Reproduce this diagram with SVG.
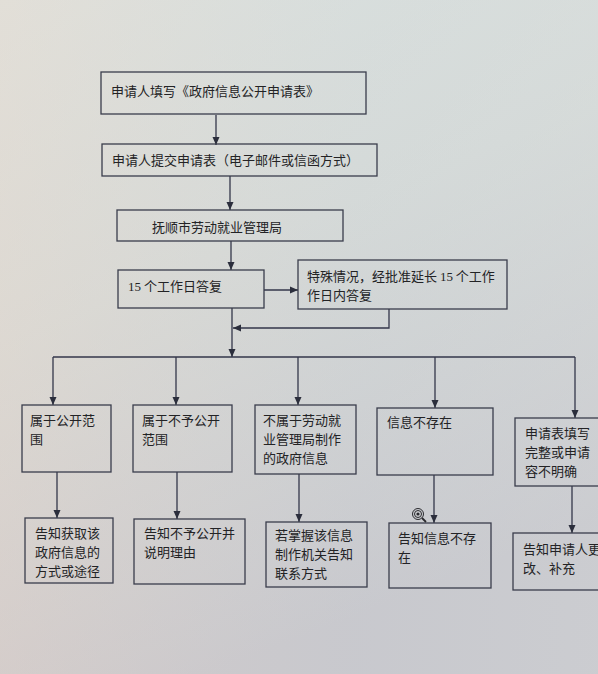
<svg xmlns="http://www.w3.org/2000/svg" width="598" height="674" viewBox="0 0 598 674">
<defs>
<linearGradient id="bg" x1="0" y1="0" x2="0.35" y2="1">
<stop offset="0" stop-color="#e0e2de"/>
<stop offset="0.45" stop-color="#d8d8d5"/>
<stop offset="1" stop-color="#c8c2c7"/>
</linearGradient>
<linearGradient id="tint" x1="0" y1="0" x2="1" y2="0">
<stop offset="0" stop-color="#e6d9cc" stop-opacity="0.35"/>
<stop offset="0.6" stop-color="#c9dde2" stop-opacity="0.25"/>
<stop offset="1" stop-color="#d2e0e2" stop-opacity="0.35"/>
</linearGradient>
<marker id="ah" markerUnits="userSpaceOnUse" markerWidth="8" markerHeight="8" viewBox="0 0 8 8" refX="8" refY="4" orient="auto">
<path d="M0,0.5 L8,4 L0,7.5 z" fill="#2b2e3c"/>
</marker>
</defs>
<style>
.box{fill:none;stroke:#3a3d4c;stroke-width:1.3}
.t{font-family:"Noto Sans CJK SC","Liberation Sans",sans-serif;font-size:13px;fill:#232325}
.n{font-family:"Liberation Serif",serif}
.c{fill:none;stroke:#33364a;stroke-width:1.3}
.ca{fill:none;stroke:#33364a;stroke-width:1.3;marker-end:url(#ah)}
</style>
<rect width="598" height="674" fill="url(#bg)"/>
<rect width="598" height="674" fill="url(#tint)"/>

<g id="connectors">
<line class="ca" x1="216" y1="115" x2="216" y2="145"/>
<line class="ca" x1="230" y1="176" x2="230" y2="210"/>
<line class="ca" x1="231" y1="241" x2="231" y2="270"/>
<line class="ca" x1="264" y1="290" x2="298" y2="290"/>
<polyline class="ca" points="389,309 389,328 233,328"/>
<line class="ca" x1="232" y1="308" x2="232" y2="357"/>
<line class="c" x1="53" y1="357" x2="575" y2="357"/>
<line class="ca" x1="53" y1="357" x2="53" y2="405"/>
<line class="ca" x1="176" y1="357" x2="176" y2="405"/>
<line class="ca" x1="298" y1="357" x2="298" y2="405"/>
<line class="ca" x1="435" y1="357" x2="435" y2="408"/>
<line class="ca" x1="575" y1="357" x2="575" y2="418"/>
<line class="ca" x1="57" y1="472" x2="57" y2="518"/>
<line class="ca" x1="177" y1="472" x2="177" y2="519"/>
<line class="ca" x1="299" y1="474" x2="299" y2="522"/>
<line class="ca" x1="434" y1="475" x2="434" y2="523"/>
<line class="ca" x1="572" y1="486" x2="572" y2="533"/>
</g>

<g id="n1"><rect class="box" x="101" y="72" width="265" height="42"/><text class="t" x="111" y="96">申请人填写《政府信息公开申请表》</text></g>
<g id="n2"><rect class="box" x="102" y="144" width="275" height="32"/><text class="t" x="112" y="165">申请人提交申请表（电子邮件或信函方式）</text></g>
<g id="n3"><rect class="box" x="117" y="210" width="226" height="31"/><text class="t" x="152" y="232">抚顺市劳动就业管理局</text></g>
<g id="n4"><rect class="box" x="118" y="270" width="146" height="38"/><text class="t" x="128" y="291"><tspan class="n">15</tspan> 个工作日答复</text></g>
<g id="n5"><rect class="box" x="298" y="260" width="209" height="49"/><text class="t" x="307" y="281">特殊情况，经批准延长 <tspan class="n">15</tspan> 个工作</text><text class="t" x="307" y="300">作日内答复</text></g>

<g id="a1"><rect class="box" x="22" y="405" width="89" height="67"/><text class="t" x="30" y="425">属于公开范</text><text class="t" x="30" y="444">围</text></g>
<g id="b1"><rect class="box" x="133" y="405" width="99" height="67"/><text class="t" x="142" y="425">属于不予公开</text><text class="t" x="142" y="444">范围</text></g>
<g id="c1"><rect class="box" x="255" y="405" width="101" height="69"/><text class="t" x="263" y="425">不属于劳动就</text><text class="t" x="263" y="444">业管理局制作</text><text class="t" x="263" y="463">的政府信息</text></g>
<g id="d1"><rect class="box" x="377" y="408" width="116" height="67"/><text class="t" x="387" y="427">信息不存在</text></g>
<g id="e1"><rect class="box" x="515" y="418" width="100" height="68"/><text class="t" x="525" y="438">申请表填写</text><text class="t" x="525" y="457">完整或申请</text><text class="t" x="525" y="476">容不明确</text></g>

<g id="a2"><rect class="box" x="25" y="518" width="88" height="65"/><text class="t" x="35" y="538">告知获取该</text><text class="t" x="35" y="557">政府信息的</text><text class="t" x="35" y="576">方式或途径</text></g>
<g id="b2"><rect class="box" x="134" y="519" width="111" height="65"/><text class="t" x="144" y="538">告知不予公开并</text><text class="t" x="144" y="557">说明理由</text></g>
<g id="c2"><rect class="box" x="266" y="522" width="101" height="65"/><text class="t" x="275" y="540">若掌握该信息</text><text class="t" x="275" y="559">制作机关告知</text><text class="t" x="275" y="578">联系方式</text></g>
<g id="d2"><rect class="box" x="389" y="523" width="102" height="65"/><text class="t" x="398" y="543">告知信息不存</text><text class="t" x="398" y="562">在</text></g>
<g id="e2"><rect class="box" x="513" y="533" width="100" height="57"/><text class="t" x="523" y="554">告知申请人更</text><text class="t" x="523" y="573">改、补充</text></g>

<g id="cursor" fill="none" stroke="#2a2a2e">
<circle cx="418" cy="514" r="5.5" stroke-width="1"/>
<circle cx="418" cy="514" r="3.5" stroke-width="1"/>
<circle cx="418" cy="514" r="1.6" fill="#2a2a2e" stroke="none"/>
<line x1="422" y1="518" x2="426" y2="522" stroke-width="1.8"/>
</g>
</svg>
